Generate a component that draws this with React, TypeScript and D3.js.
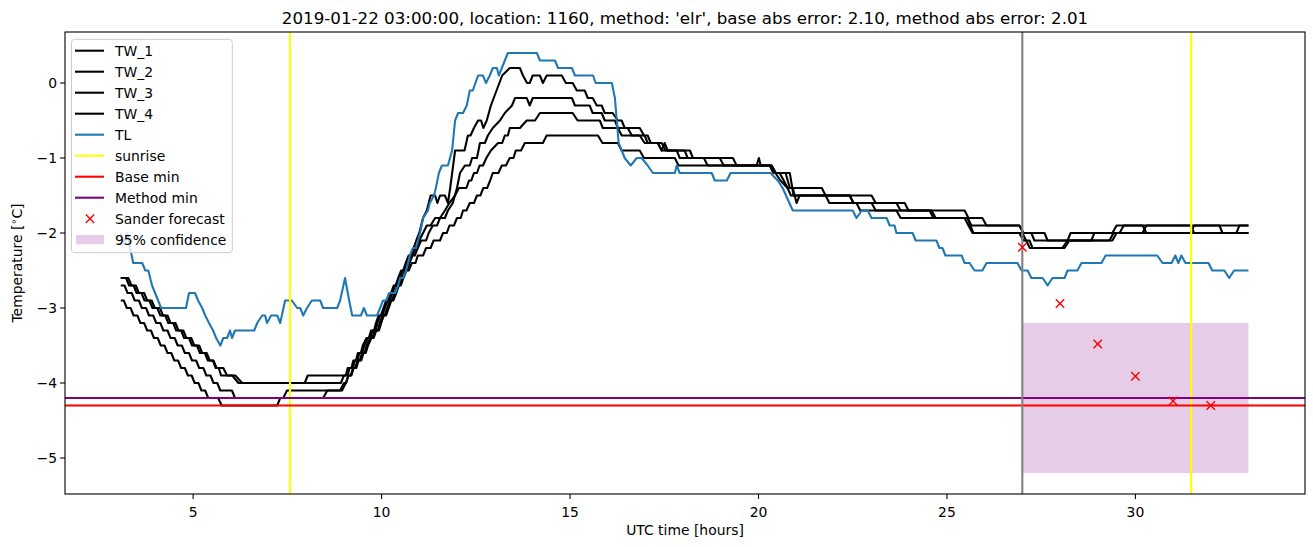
import React from "react";
import * as d3 from "d3";

type Pt = [number, number];

const TITLE =
  "2019-01-22 03:00:00, location: 1160, method: 'elr', base abs error: 2.10, method abs error: 2.01";
const X_LABEL = "UTC time [hours]";
const X_TICKS = [5, 10, 15, 20, 25, 30];
const Y_TICKS = [0, -1, -2, -3, -4, -5];

const TW_1: Pt[] = [
  [3.08,-2.6],[3.22,-2.6],[3.3,-2.7],[3.42,-2.7],[3.5,-2.8],[3.63,-2.8],[3.71,-2.9],[3.84,-2.9],[3.92,-3.0],[4.05,-3.0],[4.13,-3.1],[4.26,-3.1],[4.34,-3.2],[4.47,-3.2],[4.55,-3.3],[4.68,-3.3],[4.76,-3.4],[4.89,-3.4],[4.97,-3.5],[5.1,-3.5],[5.18,-3.6],[5.31,-3.6],[5.39,-3.7],[5.52,-3.7],[5.6,-3.8],[5.8,-3.8],[5.9,-3.9],[6.12,-3.9],[6.3,-4.0],[7.96,-4.0],[8.04,-3.9],[9.05,-3.9],
  [9.1,-3.8],[9.2,-3.8],[9.25,-3.7],[9.32,-3.7],[9.37,-3.6],[9.45,-3.6],[9.5,-3.5],[9.6,-3.4],[9.66,-3.4],[9.72,-3.3],[9.8,-3.3],[9.85,-3.2],[9.92,-3.1],[9.98,-3.1],[10.05,-3.0],[10.12,-2.9],[10.17,-2.9],[10.25,-2.8],[10.32,-2.7],[10.37,-2.7],[10.44,-2.6],[10.52,-2.5],[10.57,-2.5],[10.64,-2.4],[10.72,-2.3],[10.78,-2.3],[10.85,-2.2],[10.92,-2.1],[11.0,-2.0],[11.1,-1.8],[11.2,-1.7],[11.3,-1.5],[11.42,-1.5],[11.48,-1.6],[11.55,-1.5],[11.68,-1.5],[11.76,-1.6],[11.82,-1.4],[11.95,-0.9],[12.2,-0.9],[12.29,-0.7],[12.36,-0.7],[12.45,-0.6],[12.56,-0.5],[12.64,-0.5],[12.7,-0.6],[12.79,-0.5],[12.9,-0.3],[13.05,-0.1],[13.2,0.1],[13.4,0.2],[13.67,0.2],[13.75,0.1],[13.86,0.0],[13.93,0.0],[14.01,0.1],[14.2,0.1],[14.28,0.0],[14.38,0.1],[14.78,0.1],[14.89,0.0],[15.07,0.0],[15.18,-0.1],[15.39,-0.1],[15.47,-0.2],[15.6,-0.2],[15.71,-0.3],[15.84,-0.3],[15.92,-0.4],[16.13,-0.4],[16.27,-0.5],[16.37,-0.5],[16.45,-0.6],[16.85,-0.6],[16.96,-0.7],[17.06,-0.7],[17.14,-0.8],[17.43,-0.8],[17.54,-0.9],[18.04,-0.9],[18.12,-1.0],[19.32,-1.0],[19.42,-1.1],[19.95,-1.1],[20.01,-1.0],[20.06,-1.1],[20.35,-1.1],[20.46,-1.2],[20.56,-1.2],[20.67,-1.3],[20.77,-1.4],[21.68,-1.4],[21.78,-1.5],[23.0,-1.5],[23.11,-1.6],[23.88,-1.6],[23.98,-1.7],[25.47,-1.7],[25.57,-1.8],[25.94,-1.8],[26.05,-1.9],[26.92,-1.9],[27.03,-2.0],[27.59,-2.0],[27.67,-2.1],[28.2,-2.1],[28.28,-2.0],[29.39,-2.0],[29.5,-1.9],[30.19,-1.9],[30.29,-2.0],[31.46,-2.0],[31.56,-1.9],[32.23,-1.9],[32.31,-2.0],[32.68,-2.0],[32.76,-1.9],[33.0,-1.9],
];

const TW_2: Pt[] = [
  [3.08,-2.6],[3.28,-2.6],[3.36,-2.7],[3.48,-2.7],[3.56,-2.8],[3.7,-2.8],[3.78,-2.9],[3.9,-2.9],[3.98,-3.0],[4.12,-3.0],[4.2,-3.1],[4.32,-3.1],[4.4,-3.2],[4.53,-3.2],[4.61,-3.3],[4.74,-3.3],[4.82,-3.4],[4.95,-3.4],[5.03,-3.5],[5.16,-3.5],[5.24,-3.6],[5.36,-3.6],[5.44,-3.7],[5.54,-3.7],[5.62,-3.8],[5.68,-3.8],[5.74,-3.9],[6.04,-3.9],[6.2,-4.0],[8.92,-4.0],[9.0,-3.9],[9.1,-3.9],
  [9.15,-3.8],[9.24,-3.8],[9.29,-3.7],[9.36,-3.7],[9.41,-3.6],[9.49,-3.6],[9.54,-3.5],[9.64,-3.4],[9.7,-3.4],[9.76,-3.3],[9.84,-3.3],[9.89,-3.2],[9.96,-3.1],[10.02,-3.1],[10.09,-3.0],[10.16,-2.9],[10.21,-2.9],[10.29,-2.8],[10.36,-2.7],[10.41,-2.7],[10.48,-2.6],[10.56,-2.5],[10.61,-2.5],[10.68,-2.4],[10.76,-2.3],[10.82,-2.3],[10.9,-2.2],[11.0,-2.1],[11.1,-2.0],[11.2,-1.9],[11.3,-1.9],[11.42,-1.8],[11.68,-1.8],[11.76,-1.7],[11.89,-1.6],[12.0,-1.4],[12.08,-1.2],[12.21,-1.1],[12.34,-1.1],[12.4,-1.0],[12.53,-1.0],[12.61,-0.8],[12.74,-0.8],[12.82,-0.7],[12.95,-0.6],[13.14,-0.5],[13.27,-0.4],[13.46,-0.3],[13.54,-0.2],[13.85,-0.2],[13.93,-0.3],[14.01,-0.2],[15.05,-0.2],[15.13,-0.3],[15.52,-0.3],[15.6,-0.4],[15.84,-0.4],[15.92,-0.5],[16.19,-0.5],[16.27,-0.6],[16.53,-0.6],[16.64,-0.7],[16.98,-0.7],[17.06,-0.8],[17.33,-0.8],[17.43,-0.9],[18.18,-0.9],[18.26,-1.0],[18.97,-1.0],[19.08,-1.1],[20.3,-1.1],[20.4,-1.2],[20.72,-1.2],[20.83,-1.4],[20.91,-1.4],[21.01,-1.6],[21.09,-1.5],[22.42,-1.5],[22.52,-1.6],[23.66,-1.6],[23.77,-1.7],[24.59,-1.7],[24.7,-1.8],[25.55,-1.8],[25.65,-1.9],[26.92,-1.9],[27.03,-2.0],[27.24,-2.0],[27.32,-2.1],[28.83,-2.1],[28.91,-2.0],[30.19,-2.0],[30.29,-1.9],[31.46,-1.9],[31.56,-2.0],[33.0,-2.0],
];

const TW_3: Pt[] = [
  [3.08,-2.7],[3.18,-2.7],[3.26,-2.8],[3.37,-2.8],[3.45,-2.9],[3.56,-2.9],[3.64,-3.0],[3.75,-3.0],[3.83,-3.1],[3.94,-3.1],[4.02,-3.2],[4.13,-3.2],[4.21,-3.3],[4.32,-3.3],[4.4,-3.4],[4.51,-3.4],[4.59,-3.5],[4.7,-3.5],[4.78,-3.6],[4.89,-3.6],[4.97,-3.7],[5.08,-3.7],[5.16,-3.8],[5.27,-3.8],[5.35,-3.9],[5.46,-3.9],[5.54,-4.0],[5.64,-4.0],[5.72,-4.1],[6.03,-4.1],[6.11,-4.2],[7.39,-4.2],[7.49,-4.1],[8.9,-4.1],[9.0,-4.0],[9.06,-4.0],
  [9.12,-3.9],[9.18,-3.9],[9.24,-3.8],[9.3,-3.8],[9.36,-3.7],[9.42,-3.7],[9.48,-3.6],[9.55,-3.6],[9.6,-3.5],[9.7,-3.4],[9.75,-3.4],[9.82,-3.3],[9.9,-3.3],[9.95,-3.2],[10.02,-3.1],[10.08,-3.1],[10.15,-3.0],[10.22,-2.9],[10.27,-2.9],[10.35,-2.8],[10.42,-2.7],[10.47,-2.7],[10.54,-2.6],[10.62,-2.5],[10.67,-2.5],[10.74,-2.4],[10.82,-2.3],[10.88,-2.3],[10.96,-2.2],[11.05,-2.1],[11.18,-2.1],[11.25,-2.0],[11.36,-1.9],[11.47,-1.9],[11.55,-1.8],[11.68,-1.7],[11.8,-1.6],[11.95,-1.5],[12.05,-1.4],[12.25,-1.4],[12.32,-1.3],[12.38,-1.3],[12.45,-1.2],[12.53,-1.2],[12.6,-1.1],[12.69,-1.1],[12.78,-1.0],[12.9,-0.9],[13.09,-0.8],[13.2,-0.8],[13.27,-0.7],[13.35,-0.7],[13.4,-0.6],[13.67,-0.6],[13.85,-0.5],[14.07,-0.5],[14.2,-0.4],[15.07,-0.4],[15.2,-0.5],[15.79,-0.5],[15.87,-0.6],[16.27,-0.6],[16.37,-0.7],[16.85,-0.7],[16.98,-0.8],[17.33,-0.8],[17.43,-0.9],[17.51,-0.8],[17.59,-0.9],[17.83,-0.9],[17.91,-1.0],[18.55,-1.0],[18.65,-1.1],[20.35,-1.1],[20.45,-1.2],[20.58,-1.3],[20.77,-1.4],[20.86,-1.5],[21.78,-1.5],[21.88,-1.6],[23.0,-1.6],[23.11,-1.7],[24.54,-1.7],[24.64,-1.8],[25.55,-1.8],[25.62,-1.9],[25.7,-2.0],[26.92,-2.0],[27.03,-2.1],[27.19,-2.1],[27.27,-2.2],[28.06,-2.2],[28.2,-2.1],[29.39,-2.1],[29.5,-2.0],[33.0,-2.0],
];

const TW_4: Pt[] = [
  [3.08,-2.9],[3.16,-2.9],[3.24,-3.0],[3.34,-3.0],[3.42,-3.1],[3.52,-3.1],[3.6,-3.2],[3.7,-3.2],[3.78,-3.3],[3.88,-3.3],[3.96,-3.4],[4.06,-3.4],[4.14,-3.5],[4.24,-3.5],[4.32,-3.6],[4.42,-3.6],[4.5,-3.7],[4.6,-3.7],[4.68,-3.8],[4.78,-3.8],[4.86,-3.9],[4.96,-3.9],[5.04,-4.0],[5.14,-4.0],[5.22,-4.1],[5.32,-4.1],[5.4,-4.2],[5.66,-4.2],[5.76,-4.3],[7.23,-4.3],[7.31,-4.2],[8.45,-4.2],[8.56,-4.1],[8.95,-4.1],[9.05,-4.0],
  [9.12,-3.9],[9.2,-3.9],[9.26,-3.8],[9.33,-3.8],[9.39,-3.7],[9.46,-3.7],[9.52,-3.6],[9.58,-3.6],[9.64,-3.5],[9.73,-3.4],[9.79,-3.4],[9.86,-3.3],[9.93,-3.3],[9.99,-3.2],[10.06,-3.1],[10.12,-3.1],[10.19,-3.0],[10.26,-2.9],[10.31,-2.9],[10.39,-2.8],[10.46,-2.7],[10.51,-2.7],[10.58,-2.6],[10.66,-2.5],[10.72,-2.5],[10.8,-2.4],[10.9,-2.4],[10.96,-2.3],[11.1,-2.3],[11.18,-2.2],[11.3,-2.2],[11.38,-2.1],[11.55,-2.1],[11.63,-2.0],[11.73,-2.0],[11.8,-1.9],[11.92,-1.9],[12.0,-1.8],[12.1,-1.8],[12.16,-1.7],[12.25,-1.7],[12.34,-1.6],[12.45,-1.6],[12.53,-1.5],[12.62,-1.5],[12.7,-1.4],[12.8,-1.4],[12.88,-1.3],[12.95,-1.2],[13.1,-1.2],[13.19,-1.1],[13.3,-1.1],[13.4,-1.0],[13.5,-1.0],[13.56,-0.9],[13.7,-0.9],[13.8,-0.8],[14.28,-0.8],[14.38,-0.7],[15.74,-0.7],[15.86,-0.8],[16.27,-0.8],[16.37,-0.9],[16.85,-0.9],[16.96,-1.0],[17.78,-1.0],[17.88,-1.1],[20.3,-1.1],[20.4,-1.2],[20.83,-1.2],[20.93,-1.5],[22.42,-1.5],[22.52,-1.6],[22.6,-1.6],[22.7,-1.7],[23.66,-1.7],[23.77,-1.8],[25.47,-1.8],[25.57,-1.9],[25.68,-2.0],[27.0,-2.0],[27.2,-2.2],[28.12,-2.2],[28.25,-2.1],[29.31,-2.1],[29.42,-2.0],[29.58,-2.0],[29.69,-1.9],[33.0,-1.9],
];

const TL: Pt[] = [
  [3.08,-2.0],[3.17,-2.15],[3.25,-2.0],[3.33,-2.2],[3.41,-2.4],[3.65,-2.4],[3.73,-2.5],[3.81,-2.5],[3.91,-2.7],[3.99,-2.8],[4.07,-2.9],[4.15,-3.0],[4.81,-3.0],[4.89,-2.8],[5.05,-2.8],[5.13,-2.9],[5.24,-3.0],[5.32,-3.1],[5.42,-3.2],[5.53,-3.3],[5.61,-3.4],[5.72,-3.5],[5.8,-3.4],[5.9,-3.4],[5.98,-3.3],[6.03,-3.4],[6.11,-3.3],[6.62,-3.3],[6.7,-3.2],[6.83,-3.1],[6.91,-3.1],[6.96,-3.2],[7.07,-3.1],[7.23,-3.1],[7.31,-3.2],[7.44,-2.9],[7.62,-2.9],[7.76,-3.0],[7.84,-3.0],[7.92,-3.1],[8.02,-3.0],[8.15,-2.9],[8.37,-2.9],[8.45,-3.0],[8.82,-3.0],[8.9,-2.9],[9.03,-2.6],[9.14,-2.9],[9.22,-3.1],[9.45,-3.1],[9.53,-3.0],[9.61,-3.1],[9.88,-3.1],[9.96,-3.0],[10.04,-2.9],[10.12,-2.9],[10.2,-2.8],[10.36,-2.8],[10.44,-2.7],[10.49,-2.6],[10.57,-2.6],[10.65,-2.5],[10.75,-2.3],[10.83,-2.2],[10.91,-2.2],[11.02,-2.0],[11.1,-1.8],[11.23,-1.7],[11.28,-1.6],[11.39,-1.5],[11.44,-1.4],[11.52,-1.2],[11.6,-1.1],[11.76,-1.1],[11.87,-0.9],[11.95,-0.5],[12.03,-0.4],[12.16,-0.4],[12.26,-0.3],[12.34,-0.1],[12.42,-0.1],[12.56,0.1],[12.69,0.1],[12.77,0.0],[12.87,0.1],[12.95,0.2],[13.06,0.2],[13.11,0.1],[13.35,0.4],[14.12,0.4],[14.2,0.3],[14.6,0.3],[14.68,0.2],[15.05,0.2],[15.13,0.1],[15.61,0.1],[15.68,0.0],[16.11,0.0],[16.19,-0.2],[16.24,-0.5],[16.29,-0.8],[16.45,-1.0],[16.61,-1.1],[16.77,-1.0],[16.9,-1.0],[17.06,-1.1],[17.2,-1.2],[17.78,-1.2],[17.83,-1.1],[17.91,-1.2],[18.76,-1.2],[18.84,-1.3],[19.16,-1.3],[19.26,-1.2],[20.32,-1.2],[20.51,-1.3],[20.64,-1.4],[20.91,-1.7],[22.5,-1.7],[22.6,-1.8],[22.74,-1.7],[22.9,-1.7],[23.0,-1.8],[23.4,-1.8],[23.48,-1.9],[23.61,-1.9],[23.66,-2.0],[24.09,-2.0],[24.17,-2.1],[24.72,-2.1],[24.8,-2.2],[24.88,-2.2],[24.96,-2.3],[25.39,-2.3],[25.47,-2.4],[25.6,-2.4],[25.73,-2.5],[25.94,-2.5],[26.05,-2.4],[26.87,-2.4],[26.98,-2.5],[27.14,-2.5],[27.24,-2.6],[27.54,-2.6],[27.67,-2.7],[27.8,-2.6],[28.12,-2.6],[28.2,-2.5],[28.46,-2.5],[28.57,-2.4],[29.1,-2.4],[29.21,-2.3],[30.58,-2.3],[30.72,-2.4],[30.96,-2.4],[31.06,-2.3],[31.14,-2.4],[31.22,-2.3],[31.33,-2.4],[31.94,-2.4],[32.04,-2.5],[32.36,-2.5],[32.49,-2.6],[32.62,-2.5],[33.0,-2.5],
];

const SUNRISE = [7.57, 31.48];
const BASE_MIN = -4.3;
const METHOD_MIN = -4.2;
const FORECAST_TIME = 27;
const SANDER_HOURS = [27, 28, 29, 30, 31, 32];
const SANDER_VALUES = [-2.19, -2.94, -3.48, -3.91, -4.24, -4.3];
const CONF_HOURS = [27, 33];
const CONF_VALUES = [-5.2, -3.2];

const LEGEND_LABELS = [
  "TW_1", "TW_2", "TW_3", "TW_4", "TL", "sunrise", "Base min", "Method min", "Sander forecast", "95% confidence",
];

const W = 1313;
const H = 547;
const PL = 65, PR = 1305, PT = 32, PB = 494;
const FONT = "DejaVu Sans, sans-serif";
const FS = 13.9;
const BLUE = "#1f77b4";
const LW = 2.08;

export default function App() {
  const x = d3.scaleLinear().domain([1.6, 34.5]).range([PL, PR]);
  const y = d3.scaleLinear().domain([-5.48, 0.68]).range([PB, PT]);
  const line = d3.line<Pt>().x((d) => x(d[0])).y((d) => y(d[1]));
  const fmt = (v: number) => (v < 0 ? "\u2212" + Math.abs(v) : String(v));
  const tws = [TW_1, TW_2, TW_3, TW_4];

  const xMark = (cx: number, cy: number, key: string | number) => {
    const s = 4.2;
    return (
      <g key={key} stroke="red" strokeWidth={1.4}>
        <line x1={cx - s} y1={cy - s} x2={cx + s} y2={cy + s} />
        <line x1={cx - s} y1={cy + s} x2={cx + s} y2={cy - s} />
      </g>
    );
  };

  const legendRowY = (i: number) => 50.7 + 21 * i;
  const legendHandle = (i: number) => {
    const cy = legendRowY(i);
    const lineH = (color: string) => (
      <line x1={75} x2={104} y1={cy} y2={cy} stroke={color} strokeWidth={LW} />
    );
    if (i < 4) return lineH("black");
    if (i === 4) return lineH(BLUE);
    if (i === 5) return lineH("yellow");
    if (i === 6) return lineH("red");
    if (i === 7) return lineH("purple");
    if (i === 8) return xMark(90, cy, "lx");
    return <rect x={76} y={cy - 4.6} width={28} height={9.2} fill="purple" fillOpacity={0.2} />;
  };

  return (
    <div>
      <style>{`body{margin:0}`}</style>
      <svg width={W} height={H} style={{ display: "block" }} fontFamily={FONT}>
        <rect x={0} y={0} width={W} height={H} fill="white" />
        <defs>
          <clipPath id="plot">
            <rect x={PL} y={PT} width={PR - PL} height={PB - PT} />
          </clipPath>
        </defs>
        <g clipPath="url(#plot)">
          <rect
            x={x(CONF_HOURS[0])}
            y={y(CONF_VALUES[1])}
            width={x(CONF_HOURS[1]) - x(CONF_HOURS[0])}
            height={y(CONF_VALUES[0]) - y(CONF_VALUES[1])}
            fill="purple"
            fillOpacity={0.2}
          />
          {tws.map((s, i) => (
            <path key={i} d={line(s) || ""} fill="none" stroke="black" strokeWidth={LW} strokeLinejoin="round" />
          ))}
          <path d={line(TL) || ""} fill="none" stroke={BLUE} strokeWidth={LW} strokeLinejoin="round" />
          {SUNRISE.map((s, i) => (
            <line key={i} x1={x(s)} x2={x(s)} y1={PT} y2={PB} stroke="yellow" strokeWidth={LW} />
          ))}
          <line x1={PL} x2={PR} y1={y(BASE_MIN)} y2={y(BASE_MIN)} stroke="red" strokeWidth={LW} />
          <line x1={PL} x2={PR} y1={y(METHOD_MIN)} y2={y(METHOD_MIN)} stroke="purple" strokeWidth={LW} />
          <line x1={x(FORECAST_TIME)} x2={x(FORECAST_TIME)} y1={PT} y2={PB} stroke="gray" strokeWidth={LW} />
          {SANDER_HOURS.map((h, i) => xMark(x(h), y(SANDER_VALUES[i]), i))}
        </g>

        <rect x={PL} y={PT} width={PR - PL} height={PB - PT} fill="none" stroke="black" strokeWidth={1.1} />

        {X_TICKS.map((t) => (
          <g key={t}>
            <line x1={x(t)} x2={x(t)} y1={PB} y2={PB + 4.9} stroke="black" strokeWidth={1.1} />
            <text x={x(t)} y={PB + 22.5} textAnchor="middle" fontSize={FS} fill="black">
              {fmt(t)}
            </text>
          </g>
        ))}
        {Y_TICKS.map((t) => (
          <g key={t}>
            <line x1={PL - 4.9} x2={PL} y1={y(t)} y2={y(t)} stroke="black" strokeWidth={1.1} />
            <text x={PL - 8} y={y(t) + 5} textAnchor="end" fontSize={FS} fill="black">
              {fmt(t)}
            </text>
          </g>
        ))}

        <text x={(PL + PR) / 2} y={535} textAnchor="middle" fontSize={FS} fill="black">
          {X_LABEL}
        </text>
        <text
          transform={`translate(22,${(PT + PB) / 2}) rotate(-90)`}
          textAnchor="middle"
          fontSize={FS}
          fill="black"
        >
          Temperature [<tspan dy={-5} fontSize={FS * 0.7}>{"\u2218"}</tspan>
          <tspan dy={5}>C]</tspan>
        </text>
        <text x={(PL + PR) / 2} y={24} textAnchor="middle" fontSize={16.7} fill="black">
          {TITLE}
        </text>

        <rect x={71.5} y={39.3} width={160.8} height={213.4} rx={3} ry={3} fill="white" fillOpacity={0.8} stroke="#cccccc" strokeWidth={1} />
        {LEGEND_LABELS.map((lab, i) => (
          <g key={lab}>
            {legendHandle(i)}
            <text x={115} y={legendRowY(i) + 5} fontSize={FS} fill="black">
              {lab}
            </text>
          </g>
        ))}
      </svg>
    </div>
  );
}
